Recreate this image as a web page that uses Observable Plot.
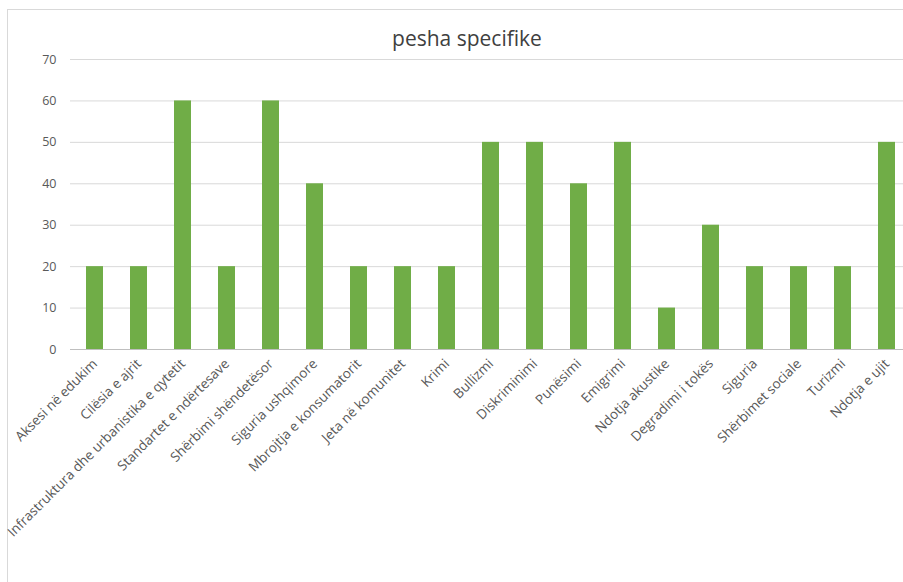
<!DOCTYPE html>
<html>
<head>
<meta charset="utf-8">
<script src="https://cdn.jsdelivr.net/npm/d3@7"></script>
<script src="https://cdn.jsdelivr.net/npm/@observablehq/plot@0.6"></script>
<style>
  html, body { margin: 0; padding: 0; background: #fff; }
  #wrap { position: relative; width: 903px; height: 582px; overflow: hidden; }
  #frame { position: absolute; left: 7px; top: 9px; width: 920px; height: 590px; border: 1px solid #d9d9d9; box-sizing: border-box; }
  #title { position: absolute; left: 0; width: 934px; top: 24px; text-align: center; font-family: "Open Sans", sans-serif; font-size: 21px; color: #404040; }
  #chart { position: absolute; left: 0; top: 0; }
</style>
</head>
<body>
<div id="wrap">
  <div id="frame"></div>
  <div id="chart"></div>
  <div id="title">pesha specifike</div>
</div>
<script>
const categories = [
  "Aksesi në edukim", "Cilësia e ajrit", "Infrastruktura dhe urbanistika e qytetit",
  "Standartet e ndërtesave", "Shërbimi shëndetësor", "Siguria ushqimore",
  "Mbrojtja e konsumatorit", "Jeta në komunitet", "Krimi", "Bullizmi",
  "Diskriminimi", "Punësimi", "Emigrimi", "Ndotja akustike", "Degradimi i tokës",
  "Siguria", "Shërbimet sociale", "Turizmi", "Ndotja e ujit"
];
const values = [20, 20, 60, 20, 60, 40, 20, 20, 20, 50, 50, 40, 50, 10, 30, 20, 20, 20, 50];
const yTicks = [0, 10, 20, 30, 40, 50, 60, 70];

const data = categories.map((c, i) => ({ category: c, value: values[i] }));

const chart = Plot.plot({
  width: 903,
  height: 582,
  marginTop: 59,
  marginBottom: 233,
  marginLeft: 70,
  marginRight: 0,
  style: { fontFamily: "Open Sans, sans-serif", fontSize: "12px", color: "#595959", background: "transparent" },
  x: { domain: categories, range: [70, 910.5], paddingInner: 0.607, paddingOuter: 0.3, label: null },
  y: { domain: [0, 70], ticks: yTicks, label: null },
  marks: [
    Plot.gridY(yTicks, { stroke: "#d9d9d9", strokeOpacity: 1 }),
    Plot.axisY(yTicks, { tickSize: 0, tickPadding: 14, fontSize: 12.5, fill: "#595959" }),
    Plot.barY(data, { x: "category", y: "value", fill: "#70ad47" }),
    Plot.ruleY([0], { stroke: "#bfbfbf" }),
    Plot.axisX({ tickSize: 0, tickRotate: -45, tickPadding: 12, fontSize: 13.5, fill: "#595959", dx: 0 })
  ]
});
document.getElementById("chart").appendChild(chart);
</script>
</body>
</html>
